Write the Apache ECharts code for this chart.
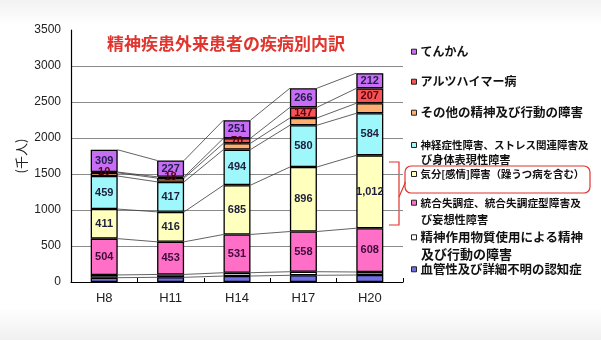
<!DOCTYPE html>
<html>
<head>
<meta charset="utf-8">
<script src="https://cdn.jsdelivr.net/npm/echarts@6/dist/echarts.min.js"></script>
<style>
  html, body { margin: 0; padding: 0; background: #ffffff; }
  #chart { width: 601px; height: 340px; }
</style>
</head>
<body>
<div id="chart"></div>
<script>
// 精神疾患外来患者の疾病別内訳（千人）
const categories = ['H8', 'H11', 'H14', 'H17', 'H20'];

// stacked from the bottom of each bar upward
const vascularDementia = [60, 65, 83, 93, 97];
const substanceUse     = [38, 40, 46, 50, 42];
const schizophrenia    = [504, 453, 531, 558, 608];
const moodDisorders    = [411, 416, 685, 896, 1012];
const neuroticDisorders = [459, 417, 494, 580, 584];
const otherMental      = [45, 52, 88, 101, 139];
const alzheimer        = [10, 18, 70, 147, 207];
const epilepsy         = [309, 227, 251, 266, 212];

const yMin = 0, yMax = 3500, yStep = 500;

const BAR_W = 27;
const JP = '"Noto Sans CJK JP", "Noto Sans", sans-serif';
const NUM = '"Liberation Sans", Arial, sans-serif';

const seriesDefs = [
  { name: '血管性及び詳細不明の認知症', data: vascularDementia, color: '#6F6FE6', label: null },
  { name: '精神作用物質使用による精神及び行動の障害', data: substanceUse, color: '#FFFFFF', label: null },
  { name: '統合失調症、統合失調症型障害及び妄想性障害', data: schizophrenia, color: '#FF6FC8', label: '#3d0a3a' },
  { name: '気分[感情]障害（躁うつ病を含む）', data: moodDisorders, color: '#FFFFBE', label: '#1e1e3c' },
  { name: '神経症性障害、ストレス関連障害及び身体表現性障害', data: neuroticDisorders, color: '#9EF7FA', label: '#1e1e3c' },
  { name: 'その他の精神及び行動の障害', data: otherMental, color: '#FFB070', label: null },
  { name: 'アルツハイマー病', data: alzheimer, color: '#F75555', label: '#5a0010' },
  { name: 'てんかん', data: epilepsy, color: '#C76EF5', label: '#1e1e4a' }
];

// legend entries: first line shown by the legend, continuation line drawn as text below it
const legendLayout = [
  { name: 'てんかん', first: 'てんかん', center: 51.7, size: 12 },
  { name: 'アルツハイマー病', first: 'アルツハイマー病', center: 81.7, size: 12 },
  { name: 'その他の精神及び行動の障害', first: 'その他の精神及び行動の障害', center: 112.7, size: 12.5 },
  { name: '神経症性障害、ストレス関連障害及び身体表現性障害', first: '神経症性障害、ストレス関連障害及', second: 'び身体表現性障害', center: 145, second_y: 161, size: 10.5, size2: 11.2 },
  { name: '気分[感情]障害（躁うつ病を含む）', first: '気分[感情]障害（躁うつ病を含む）', center: 174, size: 10.4 },
  { name: '統合失調症、統合失調症型障害及び妄想性障害', first: '統合失調症、統合失調症型障害及', second: 'び妄想性障害', center: 202.7, second_y: 220.5, size: 10.7, size2: 11.2 },
  { name: '精神作用物質使用による精神及び行動の障害', first: '精神作用物質使用による精神', second: '及び行動の障害', center: 237.3, second_y: 254, size: 12.5, size2: 13 },
  { name: '血管性及び詳細不明の認知症', first: '血管性及び詳細不明の認知症', center: 269.3, size: 12.4 }
];

const chart = echarts.init(document.getElementById('chart'), null, { renderer: 'canvas' });

const barSeries = seriesDefs.map(d => ({
  name: d.name,
  type: 'bar',
  stack: 'total',
  barWidth: BAR_W,
  data: d.data,
  z: 3,
  itemStyle: { color: d.color, borderColor: '#000000', borderWidth: 1.3 },
  label: d.label ? {
    show: true,
    position: 'inside',
    color: d.label,
    fontFamily: NUM,
    fontSize: 11,
    fontWeight: 'bold',
    formatter: p => p.value.toLocaleString('en-US')
  } : { show: false },
  emphasis: { disabled: true }
}));

// series lines joining each segment boundary between neighbouring bars
const stackedArrays = seriesDefs.map(d => d.data);
const connectorSeries = {
  type: 'custom',
  silent: true,
  z: 1,
  data: categories.slice(0, -1).map((c, i) => [i, 0]),
  encode: { x: 0, y: 1 },
  renderItem: function (params, api) {
    const i = api.value(0);
    let cumA = 0, cumB = 0;
    const children = [];
    for (const arr of stackedArrays) {
      cumA += arr[i];
      cumB += arr[i + 1];
      const a = api.coord([i, cumA]);
      const b = api.coord([i + 1, cumB]);
      children.push({
        type: 'line',
        shape: { x1: a[0] + BAR_W / 2, y1: a[1], x2: b[0] - BAR_W / 2, y2: b[1] },
        style: { stroke: '#3a3a3a', lineWidth: 0.8 }
      });
    }
    return { type: 'group', children };
  }
};

const legends = legendLayout.map(l => {
  const def = seriesDefs.find(d => d.name === l.name);
  return {
    show: true,
    data: [l.name],
    left: 411,
    top: l.center - 8,
    padding: 0,
    icon: 'rect',
    itemWidth: 5,
    itemHeight: 5,
    itemGap: 0,
    selectedMode: false,
    itemStyle: { color: def.color, borderColor: '#222', borderWidth: 1 },
    textStyle: { fontFamily: JP, fontSize: l.size, color: '#111', fontWeight: 'bold', lineHeight: 16, padding: [0, 0, 0, -1] },
    formatter: () => l.first
  };
});

const legendSecondLines = legendLayout.filter(l => l.second).map(l => ({
  type: 'text',
  left: 421,
  top: l.second_y - 6.5,
  style: { text: l.second, font: 'bold ' + l.size2 + 'px ' + JP, fill: '#111' }
}));

chart.setOption({
  animation: false,
  backgroundColor: '#ffffff',
  title: {
    text: '精神疾患外来患者の疾病別内訳',
    left: 107,
    top: 35,
    padding: 0,
    textStyle: { fontFamily: JP, fontSize: 17, fontWeight: 'bold', color: '#E0352E' }
  },
  legend: legends,
  grid: { left: 71, right: 198, top: 30, bottom: 58 },
  xAxis: {
    type: 'category',
    data: categories,
    boundaryGap: true,
    axisLine: { show: true, lineStyle: { color: '#000', width: 1.2 } },
    axisTick: { show: true, inside: true, length: 4, alignWithLabel: false, lineStyle: { color: '#000' } },
    axisLabel: { color: '#222', fontFamily: NUM, fontSize: 13, margin: 10 },
    splitLine: { show: false }
  },
  yAxis: {
    type: 'value',
    min: yMin,
    max: yMax,
    interval: yStep,
    name: '(千人)',
    nameLocation: 'middle',
    nameRotate: 90,
    nameGap: 43,
    nameMoveOverlap: false,
    nameTextStyle: { fontFamily: JP, fontSize: 13, color: '#222' },
    axisLine: { show: true, lineStyle: { color: '#000', width: 1.2 } },
    axisTick: { show: false },
    axisLabel: { color: '#222', fontFamily: NUM, fontSize: 12, margin: 10, formatter: v => String(v) },
    splitLine: { show: true, showMaxLine: false, lineStyle: { color: '#8a8a8a', width: 1 } }
  },
  graphic: [
    {
      type: 'rect', z: -10, silent: true,
      shape: { x: 0, y: 0, width: 601, height: 26 },
      style: { fill: new echarts.graphic.LinearGradient(0, 0, 0, 1, [{ offset: 0, color: '#f2f2f2' }, { offset: 1, color: '#ffffff' }]) }
    },
    {
      type: 'rect', z: -10, silent: true,
      shape: { x: 0, y: 308, width: 601, height: 32 },
      style: { fill: new echarts.graphic.LinearGradient(0, 0, 0, 1, [{ offset: 0, color: '#ffffff' }, { offset: 1, color: '#f0f0f0' }]) }
    },
    // red bracket and frame around the mood-disorder legend entry
    {
      type: 'polyline', silent: true,
      shape: { points: [[389, 162], [399, 162], [399, 225], [389, 225]] },
      style: { stroke: '#E0352E', lineWidth: 1.2, fill: null }
    },
    {
      type: 'line', silent: true,
      shape: { x1: 399, y1: 197, x2: 405.5, y2: 182 },
      style: { stroke: '#E0352E', lineWidth: 1.2 }
    },
    {
      type: 'rect', silent: true,
      shape: { x: 405, y: 166, width: 185, height: 27, r: 6 },
      style: { stroke: '#E0352E', lineWidth: 1.2, fill: null }
    }
  ].concat(legendSecondLines),
  series: barSeries.concat([connectorSeries])
});
</script>
</body>
</html>
